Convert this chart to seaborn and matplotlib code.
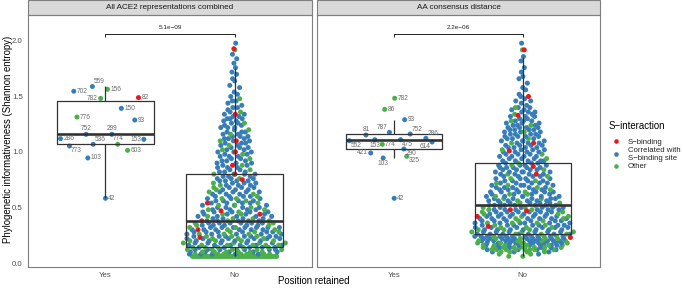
import numpy as np
import pandas as pd
import matplotlib
matplotlib.use("Agg")
import matplotlib.pyplot as plt
from matplotlib.lines import Line2D
from matplotlib.patches import Rectangle
import seaborn as sns

sns.set_style("white")
plt.rcParams["font.family"] = ["Liberation Sans", "DejaVu Sans"]

# ---------------- data ----------------
PANELS = ["All ACE2 representations combined", "AA consensus distance"]
RETAINED = ["Yes", "No"]
CLASSES = ["S\u2212binding", "Correlated with\nS\u2212binding site", "Other"]
COLORS = ["#E41A1C", "#377EB8", "#4DAF4A"]
P_VALUES = ["5.1e\u221209", "2.2e\u221206"]
Y_TICKS = [0.0, 0.5, 1.0, 1.5, 2.0]
Y_TICK_LABELS = ["0.0", "0.5", "1.0", "1.5", "2.0"]

# retained positions, panel 1 (label, entropy, class index 0=S-binding 1=correlated 2=other)
yes1_labels = ["42", "103", "603", "773", "774", "536", "153", "286", "299",
               "752", "93", "776", "150", "782", "82", "702", "156", "559"]
yes1_values = [0.583, 0.946, 1.015, 1.054, 1.069, 1.069, 1.114, 1.120, 1.159,
               1.159, 1.288, 1.315, 1.393, 1.483, 1.490, 1.547, 1.565, 1.590]
yes1_class = [1, 1, 2, 1, 2, 1, 1, 1, 1, 1, 1, 2, 1, 2, 0, 1, 2, 1]

# retained positions, panel 2
yes2_labels = ["42", "103", "325", "421", "290", "774", "614", "552", "475",
               "153", "286", "81", "752", "787", "93", "86", "782"]
yes2_values = [0.583, 0.946, 0.961, 0.991, 1.027, 1.069, 1.090, 1.102, 1.111,
               1.111, 1.123, 1.153, 1.162, 1.177, 1.291, 1.384, 1.484]
yes2_class = [1, 1, 2, 1, 1, 2, 1, 1, 1, 1, 1, 1, 1, 1, 1, 2, 2]

# non-retained positions: counts per entropy level (levels 0.06 .. 2.00, step 0.02)
NO_LEVELS = np.round(np.arange(0.06, 2.0001, 0.02), 2)

no1_total = [63, 12, 11, 12, 10, 11, 9, 10, 9, 10,
             8, 9, 8, 9, 7, 8, 7, 6, 6, 6,
             6, 6, 5, 5, 5, 5, 5, 5, 4, 5,
             4, 4, 4, 4, 4, 4, 3, 4, 3, 3,
             3, 3, 3, 3, 3, 3, 3, 3, 3, 3,
             3, 3, 3, 3, 3, 3, 3, 2, 3, 2,
             3, 2, 3, 2, 2, 2, 1, 2, 1, 1,
             2, 1, 1, 1, 1, 0, 1, 1, 0, 1,
             1, 0, 1, 1, 0, 1, 0, 1, 0, 1,
             0, 1, 0, 1, 0, 0, 1, 0]
no1_green = [63, 7, 6, 6, 5, 5, 4, 4, 3, 3,
             3, 3, 2, 2, 2, 2, 2, 2, 1, 2,
             1, 2, 1, 2, 1, 1, 2, 1, 1, 1,
             1, 1, 1, 1, 0, 1, 0, 1, 0, 1,
             0, 1, 0, 0, 1, 0, 1, 0, 1, 0,
             1, 0, 1, 0, 0, 1, 0, 1, 0, 0,
             1, 0, 0, 0, 0, 1, 0, 0, 0, 0,
             0, 1, 0, 0, 0, 0, 0, 0, 0, 0,
             0, 0, 0, 0, 0, 0, 0, 0, 0, 0,
             0, 0, 0, 1, 0, 0, 0, 0]
no1_red = [1.93, 1.34, 1.10, 1.00, 0.88, 0.80, 0.75, 0.54, 0.47, 0.44, 0.38, 0.30, 0.23]

no2_total = [2, 3, 7, 13, 13, 14, 14, 14, 14, 14,
             10, 9, 10, 9, 9, 9, 8, 9, 8, 8,
             8, 8, 7, 7, 7, 7, 7, 7, 6, 7,
             6, 6, 5, 6, 5, 5, 5, 5, 5, 5,
             5, 5, 4, 5, 4, 4, 4, 4, 4, 4,
             4, 4, 4, 4, 4, 4, 4, 4, 4, 4,
             3, 4, 2, 3, 2, 3, 2, 3, 1, 1,
             2, 1, 1, 1, 0, 1, 1, 0, 1, 0,
             1, 1, 0, 1, 0, 1, 0, 0, 1, 0,
             1, 0, 0, 1, 0, 0, 1, 0]
no2_green = [2, 2, 4, 9, 9, 6, 5, 4, 4, 3,
             3, 3, 3, 3, 2, 3, 2, 2, 2, 2,
             2, 2, 2, 1, 2, 1, 2, 1, 2, 1,
             1, 1, 1, 1, 1, 1, 1, 1, 0, 1,
             0, 1, 1, 0, 1, 0, 1, 0, 1, 0,
             0, 1, 0, 1, 0, 0, 1, 0, 0, 1,
             0, 1, 0, 0, 1, 0, 0, 1, 0, 0,
             0, 0, 0, 0, 0, 0, 0, 0, 0, 0,
             0, 0, 0, 0, 0, 0, 0, 0, 0, 0,
             0, 0, 0, 1, 0, 0, 0, 0]
no2_red = [1.92, 1.50, 1.33, 1.08, 1.01, 0.87, 0.80, 0.48, 0.47, 0.42, 0.33, 0.23]

# ---------------- layout / style ----------------
LABEL_PLACE = [
    {"559": "ar", "156": "r", "702": "r", "782": "l", "82": "r", "150": "r",
     "776": "r", "93": "r", "752": "a", "299": "a", "286": "r", "153": "l",
     "536": "ar", "774": "a", "773": "br", "603": "r", "103": "r", "42": "r"},
    {"782": "r", "86": "r", "93": "r", "81": "a", "787": "al", "752": "ar",
     "286": "ar", "552": "br", "153": "b", "774": "r", "475": "br", "614": "bl",
     "290": "br", "421": "l", "325": "br", "103": "b", "42": "r"},
]
OFFS = {"r": (2.0, 0, "left", "center"), "l": (-2.0, 0, "right", "center"),
        "a": (0, 1.6, "center", "bottom"), "b": (0, -1.6, "center", "top"),
        "ar": (1.2, 0.8, "left", "bottom"), "br": (1.2, -0.8, "left", "top"),
        "al": (-1.2, 0.8, "right", "bottom"), "bl": (-1.2, -0.8, "right", "top")}
BANDWIDTH = 1.3   # density bandwidth adjustment of the quasirandom spread


def vdc(n, base=2):
    out = np.zeros(n)
    for i in range(1, n + 1):
        v, denom, k = 0.0, 1.0, i
        while k:
            denom *= base
            k, r = divmod(k, base)
            v += r / denom
        out[i - 1] = v
    return out


def quasirandom(y, width=0.4, adjust=BANDWIDTH):
    """van der Corput offsets scaled by a gaussian density (as ggbeeswarm)."""
    y = np.asarray(y, float)
    n = len(y)
    sd = y.std(ddof=1)
    q75, q25 = np.percentile(y, [75, 25])
    lo = min(sd, (q75 - q25) / 1.34) if q75 > q25 else sd
    bw = 0.9 * lo * n ** -0.2 * adjust
    grid = np.linspace(y.min() - 3 * bw, y.max() + 3 * bw, 1000)
    dens = np.exp(-0.5 * ((grid[:, None] - y[None, :]) / bw) ** 2).sum(1)
    dens /= dens.max()
    dy = np.interp(y, grid, dens)
    ranks = np.argsort(np.argsort(y, kind="stable"), kind="stable")
    return (vdc(n)[ranks] - 0.5) * 2 * dy * width


def build_no(total, green, red):
    vals, cls = [], []
    for lv, t, g in zip(NO_LEVELS, total, green):
        b = t - g
        vals += [lv] * b
        cls += [CLASSES[1]] * b
        vals += [lv] * g
        cls += [CLASSES[2]] * g
    vals += list(red)
    cls += [CLASSES[0]] * len(red)
    return vals, cls


frames = []
for p, (yl, yv, yc, nt, ng, nr) in enumerate([
        (yes1_labels, yes1_values, yes1_class, no1_total, no1_green, no1_red),
        (yes2_labels, yes2_values, yes2_class, no2_total, no2_green, no2_red)]):
    dy_ = pd.DataFrame({"panel": PANELS[p], "retained": "Yes", "value": yv,
                        "interaction": [CLASSES[c] for c in yc], "label": yl})
    dy_["xpos"] = 0 + quasirandom(dy_["value"].values)
    nv, nc = build_no(nt, ng, nr)
    dn_ = pd.DataFrame({"panel": PANELS[p], "retained": "No", "value": nv,
                        "interaction": nc, "label": ""})
    dn_["xpos"] = 1 + quasirandom(dn_["value"].values)
    frames += [dy_, dn_]
df = pd.concat(frames, ignore_index=True)

# ---------------- figure ----------------
W, H = 683, 289
fig = plt.figure(figsize=(W / 100, H / 100), dpi=100)
axes = [fig.add_axes([28 / W, 22 / H, 284 / W, 252 / H]),
        fig.add_axes([317 / W, 22 / H, 283 / W, 252 / H])]

LINE = "#333333"
for i, ax in enumerate(axes):
    d = df[df["panel"] == PANELS[i]]
    sns.boxplot(data=d, x="retained", y="value", order=RETAINED, width=0.75,
                fill=False, color=LINE, linewidth=0.9, showfliers=False,
                showcaps=False, whis=1.5,
                medianprops=dict(linewidth=1.9, color=LINE),
                ax=ax, zorder=3)
    sns.scatterplot(data=d, x="xpos", y="value", hue="interaction",
                    hue_order=CLASSES, palette=COLORS, s=13, linewidth=0,
                    legend=False, ax=ax, zorder=2)

    # point labels
    lab = d[d["label"] != ""]
    for _, r in lab.iterrows():
        dx, dyy, ha, va = OFFS[LABEL_PLACE[i][r["label"]]]
        ax.annotate(r["label"], (r["xpos"], r["value"]), xytext=(dx, dyy),
                    textcoords="offset points", ha=ha, va=va, fontsize=4.7,
                    color="#6a6a6a", zorder=4)

    # significance bracket
    top = d["value"].max()
    yb = top + 0.084
    ax.plot([0, 0, 1, 1], [yb - 0.03, yb, yb, yb - 0.03], color="black",
            lw=0.6, zorder=4, solid_capstyle="butt")
    ax.text(0.5, yb + 0.06, P_VALUES[i], ha="center", va="center",
            fontsize=4.6, color="#222222")

    ax.set_xlim(-0.6, 1.6)
    ax.set_ylim(-0.036, 2.234)
    ax.set_xticks([0, 1])
    ax.set_xticklabels(RETAINED)
    ax.set_xlabel("")
    ax.set_ylabel("")
    ax.set_yticks(Y_TICKS)
    ax.set_yticklabels(Y_TICK_LABELS)
    ax.tick_params(axis="both", length=2.3, width=0.6, color="#555555",
                   labelsize=5.6, labelcolor="#4D4D4D", pad=1.5)
    if i == 1:
        ax.tick_params(axis="y", left=False, labelleft=False)
    for s in ax.spines.values():
        s.set_color("#7f7f7f")
        s.set_linewidth(0.8)

    # facet strip
    sh = 15 / 252
    ax.add_patch(Rectangle((0, 1), 1, sh, transform=ax.transAxes,
                           facecolor="#D9D9D9", edgecolor="#7f7f7f", lw=0.8,
                           clip_on=False))
    ax.text(0.5, 1 + sh / 2, PANELS[i], transform=ax.transAxes, ha="center",
            va="center", fontsize=5.9, color="#1A1A1A")

fig.text(314 / W, 1 - 281 / H, "Position retained", ha="center", va="center",
         fontsize=6.9, color="black")
fig.text(8 / W, 1 - 139 / H, "Phylogenetic informativeness (Shannon entropy)",
         ha="center", va="center", rotation=90, fontsize=6.9, color="black")

# legend
fig.text(609 / W, 1 - 126.5 / H, "S\u2212interaction", ha="left", va="center",
         fontsize=6.9, color="black")
handles = [Line2D([], [], marker="o", ls="", color=c, markersize=3.3,
                  markeredgewidth=0) for c in COLORS]
leg = fig.legend(handles, CLASSES, loc="upper left",
                 bbox_to_anchor=(609 / W, 1 - 138.5 / H), frameon=False,
                 fontsize=5.6, handlelength=1.8, handletextpad=0.65,
                 labelspacing=0.2, borderpad=0, borderaxespad=0)
for t in leg.get_texts():
    t.set_linespacing(1.0)

fig.savefig("out.png", dpi=100)
